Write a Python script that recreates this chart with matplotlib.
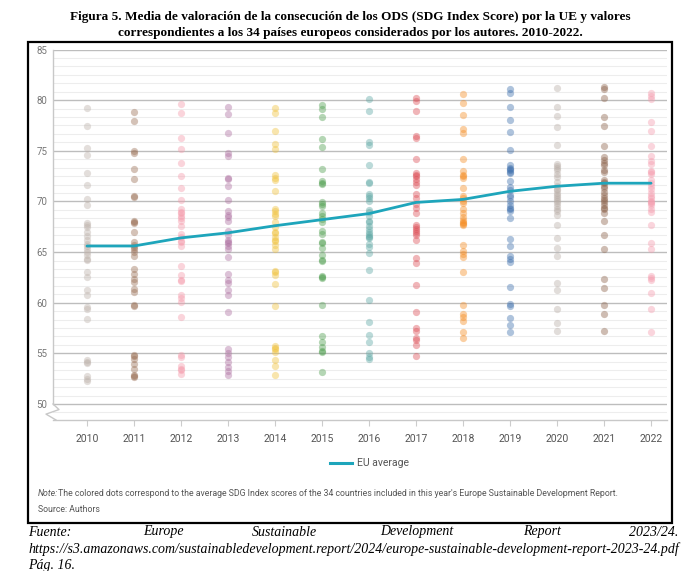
import numpy as np
import matplotlib.pyplot as plt
from matplotlib.lines import Line2D
from matplotlib.patches import Rectangle
from matplotlib.ticker import MultipleLocator
import matplotlib.transforms as transforms

# data
years = [2010, 2011, 2012, 2013, 2014, 2015, 2016, 2017, 2018, 2019, 2020, 2021, 2022]

s2010 = [79.2, 77.4, 75.3, 74.6, 72.8, 71.6, 70.2, 69.6, 67.9, 67.7, 67.5, 67.0, 66.6, 66.2, 65.8, 65.6, 65.3,
         65.0, 64.7, 64.3, 64.2, 63.0, 62.5, 61.3, 60.8, 59.6, 59.4, 58.4, 54.3, 54.1, 54.0, 52.8, 52.5, 52.3]
s2011 = [78.8, 77.9, 75.0, 74.8, 73.2, 72.2, 70.5, 70.4, 68.1, 68.0, 67.9, 67.0, 66.0, 65.7, 65.5, 65.3, 65.0,
         64.6, 63.3, 62.8, 62.3, 62.0, 61.4, 61.1, 59.8, 59.7, 54.8, 54.7, 54.4, 53.9, 53.5, 52.9, 52.8, 52.7]
s2012 = [79.6, 78.7, 76.3, 75.2, 73.8, 72.5, 71.3, 70.1, 69.3, 69.0, 68.9, 68.6, 68.4, 68.1, 67.6, 66.8, 66.5,
         66.1, 66.0, 65.6, 63.6, 62.7, 62.2, 62.1, 60.8, 60.5, 60.1, 58.6, 54.8, 54.6, 53.8, 53.5, 53.4, 53.0]
s2013 = [79.3, 78.6, 76.8, 74.8, 74.5, 72.3, 72.2, 71.5, 70.1, 69.1, 68.7, 68.5, 68.1, 67.1, 66.7, 66.2, 66.0,
         65.9, 65.6, 65.3, 64.5, 62.8, 62.2, 61.9, 61.3, 60.8, 59.1, 55.4, 55.0, 54.6, 54.1, 53.7, 53.3, 52.9]
s2014 = [79.2, 78.7, 77.0, 75.7, 75.2, 72.6, 72.3, 72.1, 71.0, 69.3, 69.1, 68.8, 68.6, 68.0, 67.5, 67.0, 66.9,
         66.5, 66.2, 66.1, 65.7, 65.3, 63.1, 63.0, 62.7, 61.8, 59.7, 55.7, 55.5, 55.4, 55.1, 54.3, 53.8, 52.9]
s2015 = [79.5, 79.1, 78.3, 76.2, 75.4, 73.2, 72.0, 71.8, 71.7, 69.9, 69.7, 69.5, 68.9, 68.6, 68.3, 68.0, 67.1,
         66.8, 66.0, 65.9, 65.4, 64.7, 64.2, 64.1, 62.6, 62.5, 62.4, 59.8, 56.7, 56.1, 55.6, 55.2, 55.1, 53.2]
s2016 = [80.1, 78.9, 75.9, 75.6, 73.6, 71.9, 71.8, 70.7, 70.5, 70.3, 70.0, 69.2, 69.0, 68.6, 68.1, 68.0, 67.6,
         67.3, 67.0, 66.8, 66.6, 66.5, 66.4, 65.8, 65.5, 64.9, 63.2, 60.3, 58.1, 56.8, 56.1, 55.0, 54.6, 54.4]
s2017 = [80.2, 79.9, 78.9, 76.5, 76.3, 74.2, 72.8, 72.6, 72.5, 72.2, 71.9, 71.6, 70.7, 70.3, 69.7, 69.4, 68.9,
         67.7, 67.5, 67.3, 67.1, 66.9, 66.7, 66.2, 64.4, 63.9, 61.7, 59.1, 57.5, 57.2, 56.5, 56.3, 55.8, 54.7]
s2018 = [80.6, 79.7, 78.5, 77.2, 76.8, 74.2, 73.0, 72.6, 72.5, 72.3, 71.3, 70.5, 70.3, 70.0, 69.8, 69.3, 68.9,
         68.5, 68.2, 68.0, 67.9, 67.8, 67.7, 65.7, 65.1, 64.8, 64.5, 63.0, 59.8, 58.9, 58.6, 58.2, 57.1, 56.5]
s2019 = [81.1, 80.7, 79.3, 78.0, 76.9, 75.1, 73.6, 73.3, 73.2, 73.1, 72.9, 72.8, 72.0, 71.4, 71.1, 70.6, 70.4,
         70.0, 69.6, 69.4, 69.3, 69.1, 68.4, 66.3, 65.6, 64.6, 64.3, 64.0, 61.6, 59.9, 59.7, 58.5, 57.8, 57.1]
s2020 = [81.2, 79.3, 78.4, 77.3, 75.6, 73.7, 73.5, 73.3, 73.1, 72.7, 72.4, 71.9, 71.5, 71.2, 71.1, 70.8, 70.6,
         70.4, 70.2, 70.0, 69.8, 69.5, 69.3, 69.1, 68.7, 67.7, 66.4, 65.4, 64.6, 61.9, 61.3, 59.4, 58.0, 57.2]
s2021 = [81.3, 81.1, 80.2, 78.3, 77.4, 75.5, 74.4, 74.1, 73.8, 73.6, 73.1, 72.9, 72.1, 71.9, 71.8, 71.5, 71.3,
         70.9, 70.6, 70.3, 70.1, 69.9, 69.6, 69.4, 69.3, 68.9, 68.1, 66.7, 65.3, 62.3, 61.5, 59.8, 58.9, 57.2]
s2022 = [80.7, 80.4, 80.1, 77.8, 77.0, 75.5, 74.5, 74.0, 73.7, 73.0, 72.9, 72.7, 72.1, 71.8, 71.5, 71.2, 70.8,
         70.5, 70.3, 70.0, 69.9, 69.8, 69.6, 69.3, 69.0, 67.7, 65.9, 65.3, 62.6, 62.4, 62.2, 61.0, 59.4, 57.1]

eu_average = [65.6, 65.6, 66.4, 66.9, 67.6, 68.2, 68.8, 69.9, 70.2, 71.0, 71.5, 71.8, 71.8]

dot_colors = ['#bdb2ab', '#9a6f55', '#f59aab', '#ad6fa0', '#f0c23c', '#4e9e4e', '#5fa8a5',
              '#dd4f57', '#f58d24', '#3f70ad', '#b9aea7', '#8b6149', '#f59cae']

scores = [s2010, s2011, s2012, s2013, s2014, s2015, s2016, s2017, s2018, s2019, s2020, s2021, s2022]

W, H = 698, 571
def fx(px):
    return px / W
def fy(py):
    return 1 - py / H

narrow = ['Liberation Sans Narrow', 'Roboto', 'DejaVu Sans']
serif = ['Liberation Serif', 'DejaVu Serif']
grey_txt = '#555555'
teal = '#1ea5bb'

fig = plt.figure(figsize=(W / 100, H / 100), dpi=100)
ax = fig.add_axes([fx(53), fy(420), 614 / W, 370.5 / H])

# colored dots per year
for i, (vals, c) in enumerate(zip(scores, dot_colors)):
    ax.scatter(np.full(len(vals), i), vals, s=27, color=c, alpha=0.42,
               linewidths=0, zorder=3)

ax.plot(range(len(years)), eu_average, color=teal, lw=2.0, zorder=4,
        solid_joinstyle='round', solid_capstyle='round')

ax.set_xlim(-0.723, 12.34)
ax.set_ylim(48.42, 85.0)

# grid
ax.yaxis.set_major_locator(MultipleLocator(5))
ax.yaxis.set_minor_locator(MultipleLocator(5 / 6))
ax.grid(True, axis='y', which='major', color='#bdbdbd', lw=1.0, zorder=1)
ax.grid(True, axis='y', which='minor', color='#ededed', lw=0.8, zorder=0)
ax.set_axisbelow(True)

for s in ['top', 'right', 'left']:
    ax.spines[s].set_visible(False)
ax.spines['bottom'].set_color('#c8c8c8')
ax.spines['bottom'].set_linewidth(1.0)

ax.set_yticks(np.arange(50, 86, 5))
ax.set_yticklabels([str(v) for v in range(50, 86, 5)], color='#777777',
                   fontsize=7, family=narrow)
ax.tick_params(axis='y', which='both', length=0, pad=4)

ax.set_xticks(range(len(years)))
ax.set_xticklabels([str(y) for y in years], color=grey_txt, fontsize=7.5, family=narrow)
ax.tick_params(axis='x', length=4, color='#cccccc', pad=6)

# left axis line with break
trans = transforms.blended_transform_factory(ax.transAxes, ax.transData)
ax.add_line(Line2D([0, 0], [50, 85], transform=trans, color='#c8c8c8', lw=1.0, clip_on=False))
zx = [(p - 53) / 614 for p in [53, 59, 46, 56]]
ax.add_line(Line2D(zx, [50, 49.45, 49.0, 48.42], transform=trans,
                   color='#c8c8c8', lw=1.0, clip_on=False))

# title
fig.text(fx(350), fy(17), 'Figura 5. Media de valoración de la consecución de los ODS (SDG Index Score) por la UE y valores',
         ha='center', va='center', fontsize=9.5, weight='bold', family=serif)
fig.text(fx(350), fy(33), 'correspondientes a los 34 países europeos considerados por los autores. 2010-2022.',
         ha='center', va='center', fontsize=9.5, weight='bold', family=serif)

# frame around chart image
fig.add_artist(Rectangle((fx(28), fy(523)), (672 - 28) / W, (523 - 42) / H,
                         transform=fig.transFigure, fill=False, ec='black', lw=1.6))

# legend
fig.add_artist(Line2D([fx(330), fx(352)], [fy(463), fy(463)], color=teal, lw=2.2))
fig.text(fx(357), fy(463), 'EU average', ha='left', va='center', fontsize=7.5,
         color=grey_txt, family=narrow)

# note
fig.text(fx(38), fy(494), 'Note:', ha='left', va='center', fontsize=6.3, style='italic',
         color=grey_txt, family=narrow)
fig.text(fx(58), fy(494), "The colored dots correspond to the average SDG Index scores of the 34 countries "
         "included in this year's Europe Sustainable Development Report.",
         ha='left', va='center', fontsize=6.3, color=grey_txt, family=narrow)
fig.text(fx(38), fy(510), 'Source: Authors', ha='left', va='center', fontsize=6.3,
         color=grey_txt, family=narrow)

# source line below the frame (justified)
words = ['Fuente:', 'Europe', 'Sustainable', 'Development', 'Report', '2023/24.']
word_x = [28, 143, 252, 380, 523, 678]
for w, x in zip(words, word_x):
    fig.text(fx(x), fy(532), w, ha='right' if w == '2023/24.' else 'left', va='center',
             fontsize=10, style='italic', family=serif)
fig.text(fx(28), fy(549), 'https://s3.amazonaws.com/sustainabledevelopment.report/2024/'
         'europe-sustainable-development-report-2023-24.pdf',
         ha='left', va='center', fontsize=10, style='italic', family=serif)
fig.text(fx(28), fy(565), 'Pág. 16.', ha='left', va='center', fontsize=10,
         style='italic', family=serif)

fig.savefig('out.png', dpi=100)
